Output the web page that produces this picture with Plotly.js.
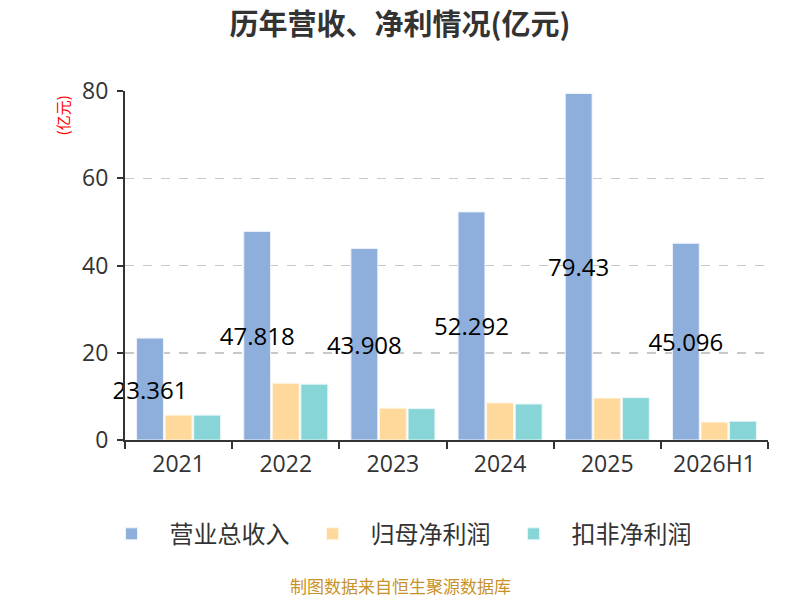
<!DOCTYPE html>
<html>
<head>
<meta charset="utf-8">
<script src="https://cdn.plot.ly/plotly-3.0.1.min.js"></script>
<style>
  body { margin: 0; background: #fff; }
  #chart { width: 800px; height: 600px; }
</style>
</head>
<body>
<div id="chart"></div>
<script>
// values (亿元)
var years = ["2021", "2022", "2023", "2024", "2025", "2026H1"];
var revenue = [23.361, 47.818, 43.908, 52.292, 79.43, 45.096];
var netProfit = [5.7, 13.0, 7.3, 8.5, 9.6, 4.1];
var deductedProfit = [5.7, 12.8, 7.2, 8.25, 9.7, 4.3];
var seriesNames = ["营业总收入", "归母净利润", "扣非净利润"];
var colors = ["#8eaedb", "#ffd99b", "#88d5d8"];

var font = "'Noto Sans CJK SC', 'Noto Sans', sans-serif";
var numFont = "'Open Sans', 'Noto Sans CJK SC', sans-serif";

var data = [
  {
    type: "bar",
    name: seriesNames[0],
    x: years,
    y: revenue,
    text: revenue.map(String),
    textposition: "inside",
    insidetextanchor: "middle",
    textangle: 0,
    constraintext: "none",
    cliponaxis: false,
    insidetextfont: { family: numFont, size: 24, color: "#000" },
    marker: { color: colors[0], line: { color: "#eef3fa", width: 1 } },
    hoverinfo: "x+y+name"
  },
  {
    type: "bar",
    name: seriesNames[1],
    x: years,
    y: netProfit,
    marker: { color: colors[1], line: { color: "#fff6e6", width: 1 } },
    hoverinfo: "x+y+name"
  },
  {
    type: "bar",
    name: seriesNames[2],
    x: years,
    y: deductedProfit,
    marker: { color: colors[2], line: { color: "#e6f6f7", width: 1 } },
    hoverinfo: "x+y+name"
  }
];

var layout = {
  width: 800,
  height: 600,
  margin: { l: 125, r: 32, t: 91, b: 160 },
  paper_bgcolor: "#fff",
  plot_bgcolor: "#fff",
  font: { family: font, color: "#333" },
  title: {
    text: "<b>历年营收、净利情况(亿元)</b>",
    font: { family: font, size: 29, color: "#333" },
    x: 0.5,
    xanchor: "center",
    y: 0.958,
    yanchor: "middle"
  },
  barmode: "group",
  bargap: 0.2,
  bargroupgap: 0.06,
  xaxis: {
    type: "category",
    showline: true,
    linecolor: "#333",
    linewidth: 2,
    ticks: "outside",
    tickson: "boundaries",
    ticklen: 7,
    tickwidth: 2,
    tickcolor: "#333",
    ticklabelstandoff: 2,
    showgrid: false,
    tickfont: { family: numFont, size: 23, color: "#333" }
  },
  yaxis: {
    range: [0, 80],
    dtick: 20,
    showline: true,
    linecolor: "#333",
    linewidth: 2,
    ticks: "outside",
    ticklen: 6,
    tickwidth: 2,
    tickcolor: "#333",
    ticklabelstandoff: 4,
    showgrid: true,
    gridcolor: "#c8c8c8",
    griddash: "dash",
    gridwidth: 1.5,
    zeroline: false,
    tickfont: { family: numFont, size: 23, color: "#333" }
  },
  legend: {
    orientation: "h",
    x: 0.42,
    xanchor: "center",
    y: -0.27,
    yanchor: "middle",
    font: { family: font, size: 24, color: "#333" },
    itemwidth: 66
  },
  annotations: [
    {
      text: "(亿元)",
      xref: "paper",
      yref: "paper",
      x: -0.098,
      y: 0.93,
      xanchor: "center",
      yanchor: "middle",
      textangle: -90,
      showarrow: false,
      font: { family: font, size: 15, color: "#ff0000" }
    },
    {
      text: "制图数据来自恒生聚源数据库",
      xref: "paper",
      yref: "paper",
      x: 0.428,
      y: -0.418,
      xanchor: "center",
      yanchor: "middle",
      showarrow: false,
      font: { family: font, size: 17, color: "#c8922a" }
    }
  ]
};

Plotly.newPlot("chart", data, layout, { displayModeBar: false, staticPlot: true });
</script>
</body>
</html>
